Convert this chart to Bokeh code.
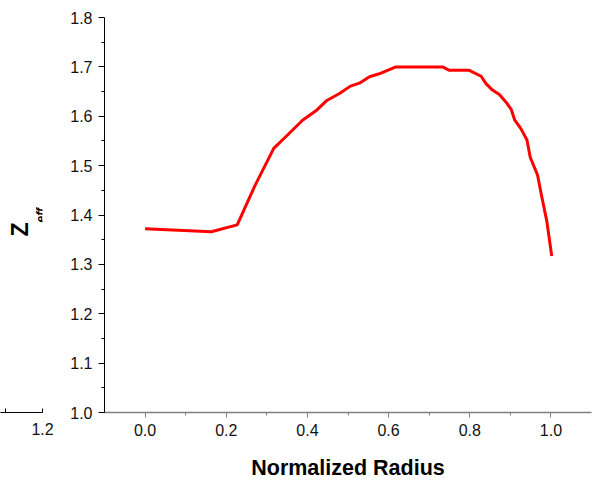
from bokeh.plotting import figure
from bokeh.models import Range1d, FixedTicker
from bokeh.core.properties import value
from bokeh.layouts import row
from bokeh.embed import file_html
from bokeh.resources import INLINE

# ---- data ----
radius = [0.0, 0.163, 0.227, 0.271, 0.317, 0.351, 0.388, 0.421, 0.448, 0.479,
          0.506, 0.528, 0.553, 0.577, 0.618, 0.733, 0.750, 0.799, 0.828, 0.840,
          0.856, 0.873, 0.889, 0.902, 0.911, 0.926, 0.941, 0.949, 0.967, 0.978,
          0.990, 1.002]
zeff = [1.372, 1.366, 1.380, 1.460, 1.535, 1.562, 1.592, 1.611, 1.632, 1.646,
        1.661, 1.667, 1.680, 1.686, 1.700, 1.700, 1.693, 1.693, 1.681, 1.666,
        1.653, 1.644, 1.629, 1.614, 1.592, 1.575, 1.552, 1.517, 1.481, 1.435,
        1.387, 1.317]

x_ticks = [0.0, 0.2, 0.4, 0.6, 0.8, 1.0]
x_tick_labels = ["0.0", "0.2", "0.4", "0.6", "0.8", "1.0"]
x_minor = [0.1, 0.3, 0.5, 0.7, 0.9]
y_ticks = [1.0, 1.1, 1.2, 1.3, 1.4, 1.5, 1.6, 1.7, 1.8]
y_tick_labels = ["1.0", "1.1", "1.2", "1.3", "1.4", "1.5", "1.6", "1.7", "1.8"]
y_minor = [1.05, 1.15, 1.25, 1.35, 1.45, 1.55, 1.65, 1.75]

# fragment of a neighbouring panel's axis (bottom-left corner)
frag_ticks = [1.2]
frag_tick_labels = ["1.2"]
frag_minor = [1.1]

FONT = "Liberation Sans"

# ---- main chart ----
p = figure(width=535, height=482, x_range=Range1d(-0.1, 1.1), y_range=Range1d(1.0, 1.8),
           output_backend="svg", toolbar_location=None,
           min_border_left=46, min_border_right=2, min_border_top=17, min_border_bottom=69)
p.outline_line_color = None
p.xgrid.visible = False
p.ygrid.visible = False
p.background_fill_color = "white"
p.border_fill_color = "white"

p.line(radius, zeff, line_color="#ff0000", line_width=3)

xa = p.xaxis[0]
xa.ticker = FixedTicker(ticks=x_ticks, minor_ticks=x_minor)
xa.major_label_overrides = {t: l for t, l in zip(x_ticks, x_tick_labels)}
xa.axis_line_color = "#808080"
xa.axis_line_width = 1.5
xa.major_tick_line_color = "#808080"
xa.minor_tick_line_color = "#808080"
xa.major_tick_in = 0
xa.major_tick_out = 5
xa.minor_tick_in = 0
xa.minor_tick_out = 3
xa.major_label_standoff = 6
xa.major_label_text_font = FONT
xa.major_label_text_font_size = "16px"
xa.major_label_text_color = "#111111"
xa.axis_label = "Normalized Radius"
xa.axis_label_text_font = FONT
xa.axis_label_text_font_style = "bold"
xa.axis_label_text_font_size = "21.5px"
xa.axis_label_text_color = "#000000"
xa.axis_label_standoff = 17

ya = p.yaxis[0]
ya.ticker = FixedTicker(ticks=y_ticks, minor_ticks=y_minor)
ya.major_label_overrides = {t: l for t, l in zip(y_ticks, y_tick_labels)}
ya.axis_line_color = "#000000"
ya.major_tick_line_color = "#000000"
ya.minor_tick_line_color = "#000000"
ya.major_tick_in = 0
ya.major_tick_out = 6
ya.minor_tick_in = 0
ya.minor_tick_out = 3
ya.major_label_standoff = 6
ya.major_label_text_font = FONT
ya.major_label_text_font_size = "16px"
ya.major_label_text_color = "#111111"

# ---- left strip: fragment axis + y title ----
s = figure(width=58, height=482, x_range=Range1d(1.0865, 1.2), y_range=Range1d(1.0, 1.8),
           output_backend="svg", toolbar_location=None, y_axis_location=None,
           min_border_left=0, min_border_right=16, min_border_top=17, min_border_bottom=69)
s.outline_line_color = None
s.xgrid.visible = False
s.ygrid.visible = False
sa = s.xaxis[0]
sa.ticker = FixedTicker(ticks=frag_ticks, minor_ticks=frag_minor)
sa.major_label_overrides = {t: l for t, l in zip(frag_ticks, frag_tick_labels)}
sa.axis_line_color = "#000000"
sa.major_tick_in = 4
sa.major_tick_out = 0
sa.minor_tick_in = 4
sa.minor_tick_out = 0
sa.major_label_standoff = 10
sa.major_label_text_font = FONT
sa.major_label_text_font_size = "16px"
sa.major_label_text_color = "#111111"

# y-axis title "Z_eff" (rotated), placed in the strip
s.text(x=[1.1379], y=[1.3707], text=["Z"], angle=1.5708,
       text_align="center", text_baseline="alphabetic",
       text_font=value(FONT), text_font_style="bold", text_font_size="23px",
       text_color="#000000")
s.text(x=[1.1960], y=[1.3848], text=["eff"], angle=1.5708,
       text_align="left", text_baseline="alphabetic",
       text_font=value(FONT), text_font_style="bold italic", text_font_size="12px",
       text_color="#000000")

layout = row(s, p, spacing=0)
open("out.html", "w").write(file_html(layout, INLINE))
